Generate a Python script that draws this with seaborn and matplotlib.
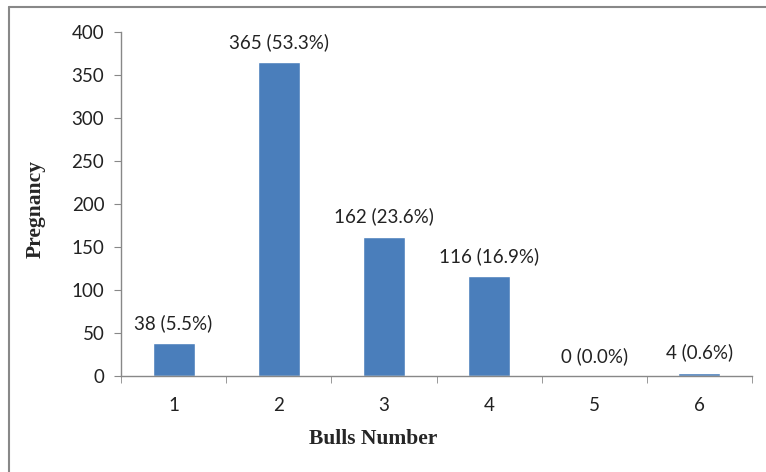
import numpy as np
import pandas as pd
import seaborn as sns
import matplotlib.pyplot as plt
from matplotlib.lines import Line2D

# Datos
bulls = ["1", "2", "3", "4", "5", "6"]
pregnancy = [38, 365, 162, 116, 0, 4]
percent = [5.5, 53.3, 23.6, 16.9, 0.0, 0.6]

df = pd.DataFrame({"bulls": bulls, "pregnancy": pregnancy})

sns.set_style("white")
plt.rcParams['font.family'] = ['Lato', 'DejaVu Sans']

fig = plt.figure(figsize=(7.66, 4.72), dpi=100)
ax = fig.add_axes([121 / 766, 1 - 376 / 472, (752 - 121) / 766, (376 - 32) / 472])

sns.barplot(data=df, x="bulls", y="pregnancy", color="#4A7EBB", width=0.4,
            saturation=1, ax=ax)

# Etiquetas encima de cada barra
for i, (v, p) in enumerate(zip(pregnancy, percent)):
    ax.annotate(f"{v} ({p:.1f}%)", (i, v), xytext=(0, 8), textcoords="offset points",
                ha="center", va="bottom", fontsize=13.5, color="#222222")

ax.set_xlim(-0.5, 5.5)
ax.set_ylim(0, 400)
ax.set_yticks(np.arange(0, 401, 50))

for s in ["top", "right"]:
    ax.spines[s].set_visible(False)
for s in ["left", "bottom"]:
    ax.spines[s].set_color("#888888")
    ax.spines[s].set_linewidth(1)

ax.tick_params(axis="y", length=5, color="#888888", labelsize=13.5, labelcolor="#222222",
               pad=7, left=True, direction="out")
ax.tick_params(axis="x", length=0, labelsize=13.5, labelcolor="#222222", pad=15)
ax.set_xticks(np.arange(-0.5, 6, 1), minor=True)
ax.tick_params(axis="x", which="minor", length=5, color="#888888", bottom=True, direction="out")

ax.set_xlabel("Bulls Number", fontsize=15.5, fontweight="bold", family="Liberation Serif")
ax.set_ylabel("Pregnancy", fontsize=15.5, fontweight="bold", family="Liberation Serif")
ax.xaxis.set_label_coords((373 - 121) / (752 - 121), -(429 - 376) / (376 - 32))
ax.yaxis.set_label_coords(-(121 - 46) / (752 - 121), (376 - 209) / (376 - 32))

# Marco exterior
fig.add_artist(Line2D([9 / 766, 1], [1 - 7 / 472, 1 - 7 / 472], color="#888888", lw=1.5))
fig.add_artist(Line2D([9 / 766, 9 / 766], [0, 1 - 7 / 472], color="#888888", lw=1.5))

plt.savefig("out.png", dpi=100)
